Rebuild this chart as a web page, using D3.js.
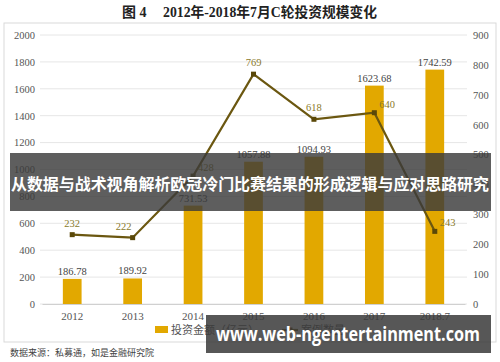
<!DOCTYPE html>
<html><head><meta charset="utf-8">
<script src="https://cdn.jsdelivr.net/npm/d3@7"></script>
<style>body{margin:0;background:#fff}svg{display:block}</style>
</head><body><svg id="c" width="500" height="362"></svg>
<script>
const categories = ["2012","2013","2014","2015","2016","2017","2018.7"];
const amounts = [186.78,189.92,731.53,1057.88,1094.93,1623.68,1742.59];
const cases = [232,222,428,769,618,640,243];
const leftTicks = [0,200,400,600,800,1000,1200,1400,1600,1800,2000];
const rightTicks = [0,100,200,300,400,500,600,700,800,900];
const caseLabelPos = ["top","topleft","right","top","top","right","right"];

const serif = "'Liberation Serif','DejaVu Serif','Noto Sans CJK SC',serif";
const svg = d3.select("#c");
const x = d3.scaleBand().domain(categories).range([42,465]).paddingInner(0.69).paddingOuter(0.345);
const yL = d3.scaleLinear().domain([0,2000]).range([304,35]);
const yR = d3.scaleLinear().domain([0,900]).range([304,35]);

svg.append("text").attr("x",122).attr("y",17)
  .attr("font-family",serif).attr("font-size",14).attr("font-weight","bold").attr("fill","#222")
  .text("图 4");
svg.append("text").attr("x",163).attr("y",17)
  .attr("font-family",serif).attr("font-size",14).attr("font-weight","bold").attr("fill","#222")
  .attr("textLength",214).attr("lengthAdjust","spacingAndGlyphs")
  .text("2012年-2018年7月C轮投资规模变化");

svg.append("rect").attr("x",4).attr("y",23).attr("width",492).attr("height",319)
  .attr("fill","none").attr("stroke","#d9d9d9");

// grid
svg.append("g").selectAll("line").data(leftTicks).join("line")
  .attr("x1",40).attr("x2",467).attr("y1",d=>yL(d)).attr("y2",d=>yL(d))
  .attr("stroke","#e6e6e6");

const axL = svg.append("g").attr("transform","translate(40,0)")
  .call(d3.axisLeft(yL).tickValues(leftTicks).tickFormat(d3.format("d")).tickSize(0).tickPadding(5));
axL.select(".domain").remove();
axL.selectAll("text").attr("font-family",serif).attr("font-size",10.5).attr("fill","#555");

const axR = svg.append("g").attr("transform","translate(469,0)")
  .call(d3.axisRight(yR).tickValues(rightTicks).tickFormat(d3.format("d")).tickSize(0).tickPadding(4));
axR.select(".domain").remove();
axR.selectAll("text").attr("font-family",serif).attr("font-size",10.5).attr("fill","#555");

const axB = svg.append("g").attr("transform","translate(0,304)")
  .call(d3.axisBottom(x).tickSize(0).tickPadding(8));
axB.select(".domain").attr("stroke","#d0d0d0");
axB.selectAll("text").attr("font-family",serif).attr("font-size",11).attr("fill","#555");

// bars
svg.append("g").selectAll("rect").data(amounts).join("rect")
  .attr("x",(d,i)=>x(categories[i])).attr("width",x.bandwidth())
  .attr("y",d=>yL(d)).attr("height",d=>yL(0)-yL(d)).attr("fill","#e2a800");
svg.append("g").selectAll("text").data(amounts).join("text")
  .attr("x",(d,i)=>x(categories[i])+x.bandwidth()/2).attr("y",d=>yL(d)-4)
  .attr("text-anchor","middle").attr("font-family",serif).attr("font-size",10.5).attr("fill","#444")
  .text(d=>d.toFixed(2));

// line
const cx = (i)=>x(categories[i])+x.bandwidth()/2;
svg.append("path").datum(cases)
  .attr("d",d3.line().x((d,i)=>cx(i)).y(d=>yR(d)))
  .attr("fill","none").attr("stroke","#6b5710").attr("stroke-width",2.2);
svg.append("g").selectAll("rect").data(cases).join("rect")
  .attr("x",(d,i)=>cx(i)-2.5).attr("y",d=>yR(d)-2.5).attr("width",5).attr("height",5)
  .attr("fill","#5a4808");
svg.append("g").selectAll("text").data(cases).join("text")
  .attr("x",(d,i)=>{const p=caseLabelPos[i]; return p==="right"?cx(i)+5:p==="topleft"?cx(i)-9:cx(i);})
  .attr("y",(d,i)=>{const p=caseLabelPos[i]; return p==="right"?yR(d)-5:yR(d)-8;})
  .attr("text-anchor",(d,i)=>caseLabelPos[i]==="right"?"start":"middle")
  .attr("font-family",serif).attr("font-size",10.5).attr("fill","#8a7a2a")
  .text(d=>d);

// legend
svg.append("rect").attr("x",155).attr("y",326).attr("width",13).attr("height",7).attr("fill","#e2a800");
svg.append("text").attr("x",171).attr("y",334).attr("font-family",serif).attr("font-size",11).attr("fill","#555")
  .text("投资金额（亿元）");
svg.append("line").attr("x1",282).attr("x2",298).attr("y1",330).attr("y2",330).attr("stroke","#6b5710").attr("stroke-width",2.2);
svg.append("rect").attr("x",287.5).attr("y",327.5).attr("width",5).attr("height",5).attr("fill","#5a4808");
svg.append("text").attr("x",301).attr("y",334).attr("font-family",serif).attr("font-size",11).attr("fill","#555")
  .text("案例数量");

svg.append("text").attr("x",10).attr("y",356).attr("font-family",serif).attr("font-size",9).attr("fill","#444")
  .text("数据来源：私募通，如是金融研究院");

// overlay banners
svg.append("rect").attr("x",10).attr("y",153).attr("width",481).attr("height",58).attr("fill","#3a3a3a").attr("opacity",0.82);
svg.append("text").attr("x",11).attr("y",190)
  .attr("font-family","'Noto Sans CJK SC',sans-serif").attr("font-size",16).attr("font-weight","bold").attr("fill","#fff")
  .attr("textLength",478).attr("lengthAdjust","spacingAndGlyphs")
  .text("从数据与战术视角解析欧冠冷门比赛结果的形成逻辑与应对思路研究");
svg.append("rect").attr("x",206).attr("y",315).attr("width",285).attr("height",38).attr("fill","#3a3a3a").attr("opacity",0.85);
svg.append("text").attr("x",216).attr("y",341)
  .attr("font-family","'Open Sans','DejaVu Sans',sans-serif").attr("font-size",19).attr("font-weight","bold").attr("fill","#fff")
  .attr("textLength",264).attr("lengthAdjust","spacingAndGlyphs")
  .text("www.web-ngentertainment.com");
</script></body></html>
